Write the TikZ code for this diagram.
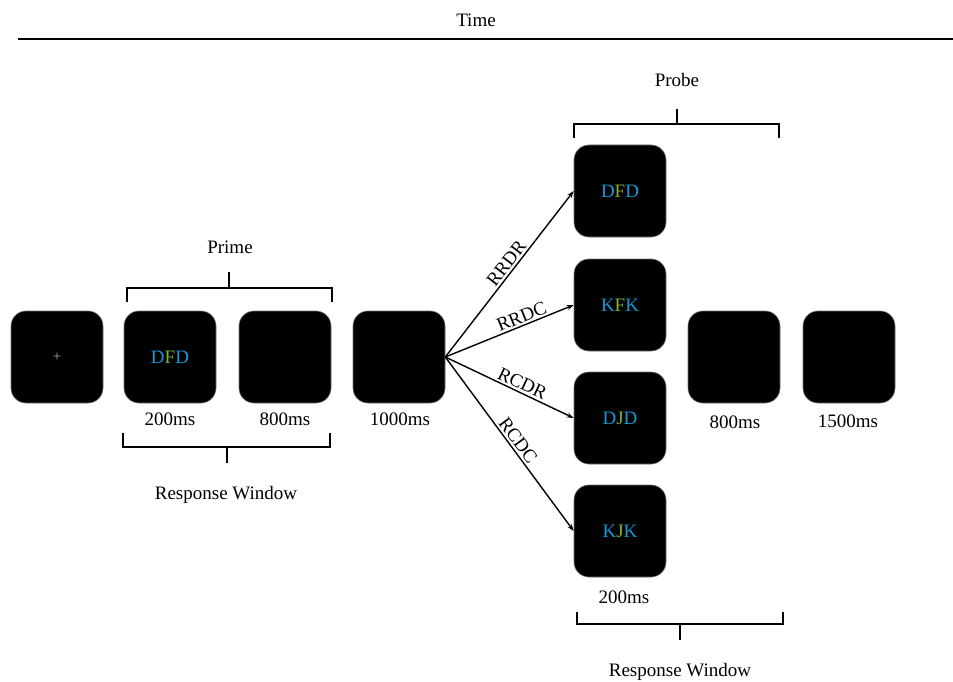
\documentclass[tikz,border=0pt]{standalone}
\usepackage{fontspec}
\setmainfont{Liberation Serif}
\usetikzlibrary{arrows.meta}
\definecolor{lblue}{RGB}{20,152,214}
\definecolor{lgreen}{RGB}{122,182,52}
\tikzset{
  screen/.style={fill=black, draw=black!55, line width=0.6pt, rounded corners=15pt,
    minimum width=92pt, minimum height=92pt, inner sep=0pt},
  lbl/.style={font=\fontsize{19}{22}\selectfont, inner sep=1pt},
  brk/.style={line width=1.8pt},
  arr/.style={line width=1.4pt, -{Stealth[length=7pt,width=5pt]}},
  arrlbl/.style={font=\fontsize{19}{22}\selectfont, sloped, above, inner sep=2pt}
}
\newcommand{\stim}[3]{\textcolor{lblue}{#1}\textcolor{lgreen}{#2}\textcolor{lblue}{#3}}
\begin{document}
\begin{tikzpicture}[x=1pt,y=-1pt]
\useasboundingbox (0,0) rectangle (953,682);
% time line
\node[lbl] (time) at (476,20) {Time};
\draw[line width=2pt] (18,39) -- (953,39);
% screens
\node[screen] (b1) at (57,357) {\textcolor{black!35}{\fontsize{15}{15}\selectfont +}};
\node[screen, lbl] (b2) at (170,357) {\stim{D}{F}{D}};
\node[screen] (b3) at (285,357) {};
\node[screen] (b4) at (399,357) {};
\node[screen, lbl] (p1) at (620,191) {\stim{D}{F}{D}};
\node[screen, lbl] (p2) at (620,305) {\stim{K}{F}{K}};
\node[screen, lbl] (p3) at (620,418) {\stim{D}{J}{D}};
\node[screen, lbl] (p4) at (620,531) {\stim{K}{J}{K}};
\node[screen] (b5) at (734,357) {};
\node[screen] (b6) at (849,357) {};
% arrows
\draw[arr] (b4.east) -- node[arrlbl, pos=0.53] (l1) {RRDR} (p1.west);
\draw[arr] (b4.east) -- node[arrlbl, pos=0.62] (l2) {RRDC} (p2.west);
\draw[arr] (b4.east) -- node[arrlbl, pos=0.57] (l3) {RCDR} (p3.west);
\draw[arr] (b4.east) -- node[arrlbl, pos=0.51] (l4) {RCDC} (p4.west);
% durations
\node[lbl] (d2) at (170,419) {200ms};
\node[lbl] (d3) at (285,419) {800ms};
\node[lbl] (d4) at (400,419) {1000ms};
\node[lbl] (d5) at (735,422) {800ms};
\node[lbl] (d6) at (848,421) {1500ms};
\node[lbl] (dp) at (624,597) {200ms};
% prime bracket
\node[lbl] (prime) at (230,247) {Prime};
\draw[brk] (127,302) -- (127,288) -- (332,288) -- (332,302);
\draw[brk] (229,272) -- (229,288);
% response window 1
\draw[brk] (123,433) -- (123,447) -- (330,447) -- (330,433);
\draw[brk] (227,447) -- (227,463);
\node[lbl] (rw1) at (226,495) {Response Window};
% probe bracket
\node[lbl] (probe) at (677,80) {Probe};
\draw[brk] (574,138) -- (574,124) -- (779,124) -- (779,138);
\draw[brk] (677,109) -- (677,124);
% response window 2
\draw[brk] (577,612) -- (577,624) -- (783,624) -- (783,612);
\draw[brk] (680,624) -- (680,640);
\node[lbl] (rw2) at (680,672) {Response Window};
\end{tikzpicture}
\end{document}
